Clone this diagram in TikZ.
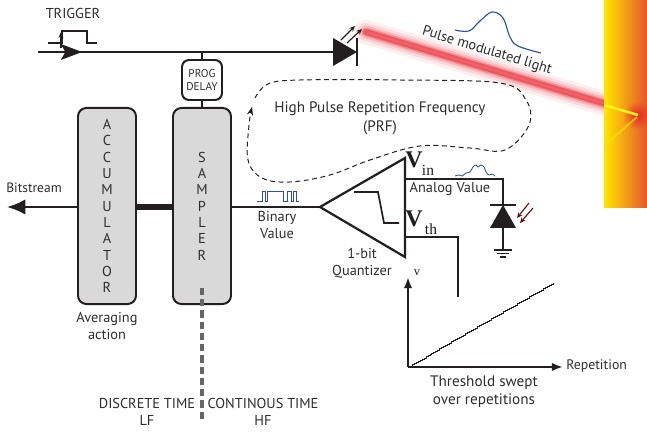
\documentclass[tikz,border=0pt]{standalone}
\usepackage{fontspec}
\setmainfont{PT Sans}
\newfontfamily\vfont{Liberation Serif}
\usetikzlibrary{arrows.meta,decorations.markings,fadings}

\definecolor{ink}{HTML}{231F20}
\definecolor{txt}{HTML}{2E2E2E}
\definecolor{boxgray}{HTML}{D9D9D9}
\definecolor{wave}{HTML}{2E4FA3}
\definecolor{beamred}{HTML}{E8202A}
\definecolor{beamcore}{HTML}{F4606A}
\definecolor{photored}{HTML}{6A0E0E}
\definecolor{wallL}{HTML}{FFE600}
\definecolor{wallM}{HTML}{F8B82A}
\definecolor{wallR}{HTML}{E4562C}
\definecolor{divgray}{HTML}{666666}

\tikzfading[name=glowfade, inner color=transparent!0, outer color=transparent!100]

\tikzset{
  block/.style={draw=ink, line width=1.4pt, fill=boxgray, rounded corners=6pt,
    minimum width=1.45cm, minimum height=4.9cm, inner sep=0pt, align=center,
    text=txt, font=\fontsize{10.2}{11.6}\selectfont},
  wire/.style={draw=ink, line width=1.8pt},
  lbl/.style={text=txt, font=\fontsize{10.2}{12.5}\selectfont, align=center, inner sep=0pt},
  bluewave/.style={wave, line width=0.6pt},
  thinwire/.style={draw=ink, line width=0.8pt},
}

\begin{document}
\begin{tikzpicture}[x=0.025cm,y=-0.025cm]
\fill[white] (0,0) rectangle (647,433);
\useasboundingbox (0,0) rectangle (647,433);

% light beam onto the target
\coordinate (beamA) at (366,32);
\coordinate (beamB) at (606,104);
\foreach \w/\o in {24/0.07, 18/0.1, 13/0.16, 9/0.28, 6/0.5} {
  \draw[beamred, line width=\w*0.71pt, opacity=\o, line cap=round] (beamA) -- (beamB);
}
\draw[beamcore, line width=1.6pt] (beamA) -- (beamB);

% target wall
\shade[left color=wallL, middle color=wallM, right color=wallR] (604,0) rectangle (647,208);
\fill[beamred, path fading=glowfade, opacity=0.9] (637,115) circle (14);
\draw[yellow!90!white, line width=1.8pt] (604,105) -- (638,115);
\draw[yellow!80!orange, line width=1.4pt, opacity=0.7] (637,117) -- (604,146);

\node[lbl, rotate=-17] (plabel) at (487,51) {Pulse modulated light};
\draw[bluewave, line width=0.8pt] plot[smooth, tension=0.6] coordinates
  {(455,30) (469,31) (480,21) (492,12) (503,18) (510,37) (518,46) (541,53)};

% trigger line and emitter
\node[lbl] (trigger) at (73,13) {TRIGGER};
\draw[thinwire] (48,43) -- (62,43) -- (62,31) -- (87,31) -- (87,43) -- (97,43);
\draw[thinwire, -{Stealth[length=4pt,width=3.5pt]}] (61,48) -- (61,32);
\coordinate (trigin) at (38,52);
\coordinate (led) at (333,52);
\draw[ink, line width=2.1pt, postaction={decorate},
  decoration={markings, mark=at position 0.15 with {\arrow{Stealth[length=15pt,width=11pt,inset=3pt]}}}]
  (trigin) -- (led);
\fill[ink] (333,38) -- (357,52) -- (333,66) -- cycle;
\draw[ink, line width=1pt] (357,38) -- (357,66);
\draw[thinwire, -{Stealth[length=4pt,width=3.5pt]}] (341,40) -- (355,26);
\draw[thinwire, -{Stealth[length=4pt,width=3.5pt]}] (347,43) -- (362,29);

% blocks
\node[draw=ink, line width=1.4pt, rounded corners=5pt, minimum width=1cm, minimum height=1cm,
  inner sep=0pt, align=center, text=txt, font=\fontsize{8}{9.5}\selectfont] (delay) at (202,80) {PROG\\DELAY};
\node[block] (acc) at (107,206) {A\\C\\C\\U\\M\\U\\L\\A\\T\\O\\R};
\node[block] (smp) at (202,206) {S\\A\\M\\P\\L\\E\\R};
\draw[ink, line width=1.4pt] (delay.north) -- (delay.north |- trigin);
\draw[ink, line width=1.4pt] (delay.south) -- (smp.north);

\coordinate (bitout) at (7,207);
\draw[wire, -{Latex[length=13pt,width=11pt]}] (acc.west |- bitout) -- (bitout);
\node[lbl, font=\fontsize{9.6}{12}\selectfont] (bits) at (34,188) {Bitstream};
\draw[ink, line width=4.3pt] (smp.west |- bitout) -- (acc.east |- bitout);
\node[lbl] (avg) at (107,326) {Averaging\\action};

% sampling border
\draw[divgray, line width=2.2pt, dash pattern=on 5pt off 3pt] (202,288) -- (202,421);
\node[lbl] (dt) at (147,412) {DISCRETE TIME\\LF};
\node[lbl] (ct) at (263,412) {CONTINOUS TIME\\HF};

% comparator
\coordinate (cmp) at (320,207);
\draw[ink, line width=1.6pt, line join=miter] (cmp) -- (405,158) -- (405,257) -- cycle;
\draw[ink, line width=1.2pt] (354,192) -- (378,192) -- (384,223) -- (399,223);
\draw[wire] (cmp) -- (smp.east |- cmp);
\node[lbl] (bin) at (277,225) {Binary\\Value};
\draw[bluewave] (257,201) -- (262,201) -- (262,191) -- (265,191) -- (265,201) -- (267,201)
  -- (267,191) -- (283,191) -- (283,201) -- (287,201) -- (287,191) -- (291,191) -- (291,201)
  -- (293,201) -- (293,191) -- (296,191) -- (296,201) -- (299,201);
\node[lbl] (quant) at (362,263) {1-bit\\Quantizer};

\node[inner sep=0pt, font=\vfont\bfseries\fontsize{17}{17}\selectfont, text=ink] (vin) at (414,160) {V};
\node[inner sep=0pt, font=\vfont\fontsize{11}{11}\selectfont, text=ink] (vinsub) at (428,170) {in};
\node[inner sep=0pt, font=\vfont\bfseries\fontsize{17}{17}\selectfont, text=ink] (vth) at (414,219) {V};
\node[inner sep=0pt, font=\vfont\fontsize{11}{11}\selectfont, text=ink] (vthsub) at (431,229) {th};

% photodiode input
\coordinate (pd) at (503,205);
\draw[wire] (405,179) -| (pd);
\node[lbl] (ana) at (450,189) {Analog Value};
\draw[bluewave] plot[smooth, tension=0.5] coordinates
  {(455,176) (459,175) (462,176) (466,173) (470,172) (473,167) (476,165) (478,167)
   (481,165) (484,167) (486,172) (489,175) (492,174) (495,176)};
\fill[ink] (490,228) -- (516,228) -- (pd) -- cycle;
\draw[ink, line width=1pt] (490,205) -- (516,205);
\draw[thinwire] (503,228) -- (503,250);
\draw[thinwire] (494,250) -- (512,250);
\draw[thinwire] (497,253.5) -- (509,253.5);
\draw[thinwire] (500,257) -- (506,257);
\draw[photored, line width=0.8pt, -{Stealth[length=4pt,width=3.5pt]}] (529,203) -- (517,218);
\draw[photored, line width=0.8pt, -{Stealth[length=4pt,width=3.5pt]}] (533,208) -- (520,223);

% threshold input and sweep
\draw[wire] (405,237) -| (458,297);
\coordinate (org) at (408,367);
\draw[ink, line width=1.5pt, -{Latex[length=8pt,width=6pt]}] (org) -- (408,277);
\draw[ink, line width=1.5pt, -{Latex[length=8pt,width=6pt]}] (org) -- (563,367);
\node[inner sep=0pt, font=\vfont\fontsize{9}{9}\selectfont, text=ink] (vax) at (417,273) {v};
\node[lbl, anchor=west, font=\fontsize{9.8}{12}\selectfont] (rep) at (566,366) {Repetition};
\draw[ink, line width=0.5pt] (410,366) \foreach \i in {1,...,72} { -- ++(1.986,0) -- ++(0,-1.153) };
\node[lbl, font=\fontsize{10.8}{13}\selectfont] (sweep) at (484,392) {Threshold swept\\over repetitions};

% repetition loop
\node[lbl, font=\fontsize{10.8}{13.5}\selectfont] (prf) at (380,118) {High Pulse Repetition Frequency\\(PRF)};
\draw[ink, line width=0.7pt, dash pattern=on 3.5pt off 2.5pt, -{Stealth[length=6pt,width=4.5pt]}]
  plot[smooth, tension=0.6] coordinates
  {(255,98) (268,84) (300,80) (400,80) (500,83) (526,100) (529,125) (505,150) (470,148)
   (420,146) (370,160) (330,175) (290,182) (262,178) (248,160) (249,125) (252,107)};
\end{tikzpicture}
\end{document}
